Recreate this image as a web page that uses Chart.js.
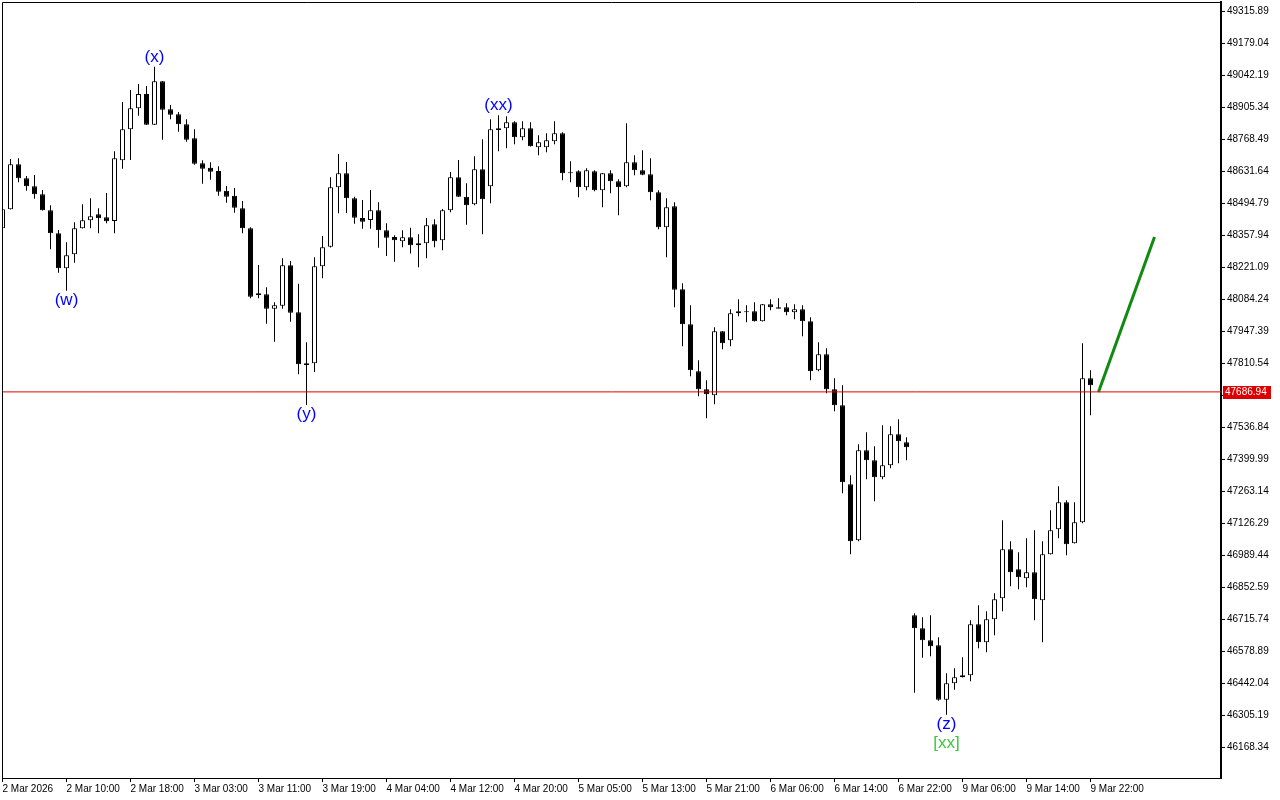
<!DOCTYPE html>
<html lang="en">
<head>
<meta charset="UTF-8">
<title>BTC H1 | waves</title>
<script src="https://cdn.jsdelivr.net/npm/chart.js"></script>
<style>
  html, body { margin: 0; padding: 0; background: #fff; }
  #wrap { width: 1280px; height: 800px; }
</style>
</head>
<body>
<div id="wrap"><canvas id="chart" width="1280" height="800"></canvas></div>
<script>
// hourly candles
const opens = [48386.6,48467.9,48660.3,48600.4,48566.2,48532.0,48463.6,48365.2,48215.5,48275.4,
  48386.6,48420.8,48446.5,48433.6,48417.8,48677.4,48810.0,48899.8,48960.9,48829.6,
  49015.2,48895.5,48874.1,48831.4,48771.5,48664.6,48645.8,48631.6,48547.4,48526.0,
  48472.1,48386.6,48108.6,48104.3,48042.8,48055.6,48228.4,48027.4,47809.3,47809.3,
  48224.1,48307.9,48561.9,48621.8,48514.9,48430.6,48422.1,48463.6,48378.0,48349.4,
  48331.0,48348.1,48313.9,48322.4,48403.7,48335.3,48463.6,48604.7,48521.7,48489.2,
  48638.9,48566.2,48814.2,48814.2,48839.9,48775.8,48814.2,48733.0,48733.0,48758.7,
  48792.9,48626.1,48630.4,48561.9,48630.4,48549.1,48621.8,48587.6,48566.2,48668.8,
  48634.6,48617.5,48540.5,48390.9,48480.7,48125.8,47976.0,47775.0,47698.0,47672.3,
  47946.1,47907.6,48023.1,48031.7,48031.7,47988.9,48061.5,48048.8,48048.8,48027.4,
  48040.2,47988.9,47779.3,47847.7,47698.0,47629.5,47291.8,47052.2,47437.1,47394.4,
  47321.7,47373.0,47505.6,47471.3,46731.6,46676.0,46624.7,46603.3,46370.6,46440.8,
  46466.5,46475.0,46693.1,46616.1,46714.5,46804.3,47013.8,46928.3,46889.8,46915.5,
  46795.7,46992.3,47099.4,47214.8,47039.3,47129.3,47745.1];
const highs = [48486.2,48683.0,48686.0,48610.3,48614.5,48550.4,48485.0,48379.3,48326.7,48412.3,
  48489.2,48514.9,48472.1,48537.6,48715.9,48926.7,48978.0,49003.7,48995.1,49077.7,
  49016.5,48913.9,48884.0,48852.7,48810.0,48677.4,48668.8,48651.7,48567.5,48559.0,
  48503.3,48390.9,48229.6,48134.3,48070.1,48258.3,48246.8,48149.7,47899.1,48262.6,
  48353.7,48604.7,48704.3,48670.1,48521.7,48507.6,48550.4,48497.8,48408.0,48356.7,
  48378.0,48389.2,48360.9,48430.6,48425.1,48469.1,48627.3,48678.7,48579.0,48694.5,
  48767.2,48852.7,48869.8,48865.6,48844.2,48844.2,48839.9,48784.3,48792.9,48844.2,
  48797.2,48673.1,48634.6,48643.2,48634.6,48623.1,48634.6,48596.1,48835.6,48698.8,
  48720.2,48686.0,48549.1,48514.9,48497.8,48151.5,48057.3,47822.1,47736.5,47963.2,
  47947.4,48040.2,48083.0,48057.3,48070.1,48062.8,48082.9,48087.2,48065.8,48061.5,
  48057.3,48006.0,47899.1,47873.4,47745.1,47715.0,47330.3,47462.8,47514.1,47454.3,
  47544.1,47539.8,47569.7,47492.7,46740.1,46723.0,46731.6,46637.5,46483.4,46505.0,
  46552.0,46710.2,46774.4,46748.7,46825.7,47137.8,47048.0,47001.0,47060.9,47095.1,
  47048.0,47180.5,47283.2,47223.4,47214.8,47894.8,47779.3];
const lows = [48370.8,48467.0,48583.3,48547.4,48513.2,48462.7,48296.8,48196.7,48119.7,48239.5,
  48385.7,48386.6,48365.2,48408.0,48365.2,48641.5,48678.7,48868.1,48828.4,48828.4,
  48765.5,48852.7,48799.7,48756.9,48658.6,48577.3,48594.4,48526.0,48496.1,48453.3,
  48365.2,48087.2,48087.2,47978.6,47901.6,48042.8,47987.2,47762.2,47630.9,47772.0,
  48172.8,48304.4,48450.7,48452.0,48406.3,48384.9,48384.9,48303.6,48268.2,48243.8,
  48305.3,48278.5,48219.8,48258.3,48305.3,48292.5,48455.0,48520.4,48402.0,48485.0,
  48360.9,48493.5,48715.9,48728.7,48745.8,48762.9,48736.4,48699.0,48711.6,48745.8,
  48591.9,48583.3,48519.1,48549.1,48544.8,48476.4,48536.3,48442.2,48561.9,48613.2,
  48613.2,48506.3,48382.3,48262.6,48048.8,47882.0,47753.6,47668.1,47574.1,47633.9,
  47869.1,47882.0,48010.3,47984.6,47988.0,47988.0,48035.9,48044.5,48014.6,47997.5,
  47924.7,47736.5,47775.0,47680.9,47603.8,47253.3,46992.3,47047.9,47313.2,47219.1,
  47313.2,47360.2,47381.6,47394.4,46400.6,46550.2,46556.2,46366.4,46306.5,46413.5,
  46465.6,46449.3,46590.4,46573.3,46646.0,46748.7,46855.6,46842.8,46851.4,46710.2,
  46616.1,46991.5,47060.9,46988.0,47038.5,47125.1,47586.9];
const closes = [48467.9,48660.3,48600.4,48566.2,48532.0,48463.6,48365.2,48215.5,48271.1,48386.6,
  48420.8,48437.9,48429.4,48416.5,48686.0,48810.0,48899.8,48960.9,48829.6,49015.2,
  48893.8,48872.4,48831.4,48765.5,48662.9,48641.5,48628.6,48543.1,48521.7,48474.7,
  48386.6,48094.1,48101.4,48042.8,48057.3,48228.4,48025.7,47805.0,47802.0,48224.1,
  48305.3,48561.9,48621.8,48514.9,48431.9,48414.8,48463.6,48378.0,48346.4,48335.3,
  48348.1,48313.9,48322.4,48399.4,48331.0,48463.6,48604.7,48521.7,48485.0,48638.9,
  48510.6,48810.0,48806.9,48839.9,48775.8,48814.2,48737.3,48754.4,48762.9,48792.9,
  48621.8,48621.8,48561.9,48634.6,48549.1,48621.8,48587.6,48561.9,48668.8,48634.6,
  48615.8,48540.5,48390.9,48476.4,48124.1,47976.0,47779.3,47698.0,47676.6,47946.1,
  47894.8,48023.1,48031.7,48027.4,47988.9,48061.5,48048.8,48042.8,48027.4,48040.2,
  47988.9,47775.0,47847.7,47698.0,47629.5,47300.3,47047.9,47437.1,47394.4,47321.7,
  47373.0,47505.6,47475.6,47449.9,46676.0,46624.7,46599.0,46370.6,46440.8,46466.5,
  46475.0,46693.1,46616.1,46714.5,46800.0,47013.8,46915.5,46894.1,46915.5,46800.0,
  46992.3,47095.1,47214.8,47035.1,47129.3,47745.1,47715.2];

const tickLabels = ['2 Mar 2026','2 Mar 10:00','2 Mar 18:00','3 Mar 03:00','3 Mar 11:00','3 Mar 19:00',
  '4 Mar 04:00','4 Mar 12:00','4 Mar 20:00','5 Mar 05:00','5 Mar 13:00','5 Mar 21:00',
  '6 Mar 06:00','6 Mar 14:00','6 Mar 22:00','9 Mar 06:00','9 Mar 14:00','9 Mar 22:00'];
const priceTicks = [49315.89,49179.04,49042.19,48905.34,48768.49,48631.64,48494.79,48357.94,
  48221.09,48084.24,47947.39,47810.54,47673.69,47536.84,47399.99,47263.14,47126.29,46989.44,
  46852.59,46715.74,46578.89,46442.04,46305.19,46168.34];
const currentPrice = 47686.94;
const arrowPath = [{x: 137, y: 47686.94}, {x: 144, y: 48349.4}];
const waveLabels = [
  {i: 8,   price: 48119.7, text: '(w)',  color: '#0000ff', side: 'below', row: 0},
  {i: 19,  price: 49077.7, text: '(x)',  color: '#0000ff', side: 'above', row: 0},
  {i: 38,  price: 47630.9, text: '(y)',  color: '#0000ff', side: 'below', row: 0},
  {i: 62,  price: 48869.8, text: '(xx)', color: '#0000ff', side: 'above', row: 0},
  {i: 118, price: 46306.5, text: '(z)',  color: '#0000ff', side: 'below', row: 0},
  {i: 118, price: 46306.5, text: '[xx]', color: '#3cc83c', side: 'below', row: 1}
];

const FONT = 'Liberation Sans';
const idx = opens.map((_, i) => i);
const wicks = idx.map(i => ({x: i, y: [lows[i], highs[i]]}));
const bodies = idx.map(i => ({x: i, y: [Math.min(opens[i], closes[i]), Math.max(opens[i], closes[i])]}));
const bodyFill = idx.map(i => closes[i] >= opens[i] ? '#ffffff' : '#000000');

const noPad = s => { s.paddingTop = 0; s.paddingBottom = 0; s.paddingLeft = 0; s.paddingRight = 0; };

const extras = {
  id: 'extras',
  beforeDraw(chart) {
    const c = chart.ctx;
    c.save();
    c.fillStyle = '#fff';
    c.fillRect(0, 0, chart.width, chart.height);
    c.restore();
  },
  afterDatasetsDraw(chart) {
    const c = chart.ctx, xs = chart.scales.x, ys = chart.scales.y;
    c.save();
    c.font = '17px "' + FONT + '"';
    c.textAlign = 'center';
    waveLabels.forEach(l => {
      const x = xs.getPixelForValue(l.i);
      const y = ys.getPixelForValue(l.price);
      c.fillStyle = l.color;
      if (l.side === 'below') {
        c.textBaseline = 'top';
        c.fillText(l.text, x, y + 1 + l.row * 19);
      } else {
        c.textBaseline = 'bottom';
        c.fillText(l.text, x, y - 1 - l.row * 19);
      }
    });
    c.restore();
  },
  afterDraw(chart) {
    const c = chart.ctx, a = chart.chartArea, ys = chart.scales.y;
    c.save();
    c.strokeStyle = '#000';
    c.lineWidth = 1;
    c.beginPath();
    c.moveTo(a.left + 0.5, a.bottom);
    c.lineTo(a.left + 0.5, a.top + 0.5);
    c.lineTo(a.right, a.top + 0.5);
    c.stroke();
    // current price tag
    const y = Math.round(ys.getPixelForValue(currentPrice));
    c.fillStyle = '#dd0000';
    c.fillRect(a.right + 2, y - 6, 48, 13);
    c.fillStyle = '#fff';
    c.font = '10px "' + FONT + '"';
    c.textBaseline = 'middle';
    c.textAlign = 'left';
    c.fillText(currentPrice.toFixed(2), a.right + 4, y + 0.5);
    c.restore();
  }
};

new Chart(document.getElementById('chart'), {
  type: 'bar',
  data: {
    datasets: [
      { type: 'line', data: [{x: -1, y: currentPrice}, {x: 160, y: currentPrice}],
        borderColor: '#e00000', borderWidth: 1, pointRadius: 0, order: 0 },
      { type: 'line', data: arrowPath, borderColor: '#108a10', borderWidth: 3,
        pointRadius: 0, order: 0 },
      { data: bodies, backgroundColor: bodyFill, borderColor: '#000', borderWidth: 1,
        borderSkipped: false, barThickness: 5, grouped: false, inflateAmount: 0, order: 1 },
      { data: wicks, backgroundColor: '#000', borderWidth: 0, barThickness: 1,
        grouped: false, inflateAmount: 0, order: 2 }
    ]
  },
  options: {
    animation: false,
    responsive: false,
    devicePixelRatio: 1,
    layout: { padding: { left: 2, top: 2, right: 0, bottom: 0 } },
    plugins: { legend: { display: false }, tooltip: { enabled: false } },
    scales: {
      x: {
        type: 'linear', offset: false, min: -0.0625, max: 152.3125,
        afterBuildTicks: s => { s.ticks = tickLabels.map((_, k) => ({value: k * 8})); },
        afterFit: s => { s.height = 22; noPad(s); },
        ticks: {
          autoSkip: false, maxRotation: 0, align: 'start', padding: 1, color: '#000',
          font: { family: FONT, size: 10 },
          callback: v => tickLabels[Math.round(v / 8)] || ''
        },
        grid: { offset: false, drawOnChartArea: false, drawTicks: true, tickLength: 4, color: '#000' },
        border: { display: true, color: '#000', width: 1 }
      },
      y: {
        position: 'right', min: 46035.77, max: 49354.38,
        afterBuildTicks: s => { s.ticks = priceTicks.map(v => ({value: v})); },
        afterFit: s => { s.width = 59; noPad(s); },
        ticks: {
          autoSkip: false, padding: 2, color: '#000',
          font: { family: FONT, size: 10 },
          callback: v => Number(v).toFixed(2)
        },
        grid: { drawOnChartArea: false, drawTicks: true, tickLength: 4, color: '#000' },
        border: { display: true, color: '#000', width: 2 }
      }
    }
  },
  plugins: [extras]
});
</script>
</body>
</html>
